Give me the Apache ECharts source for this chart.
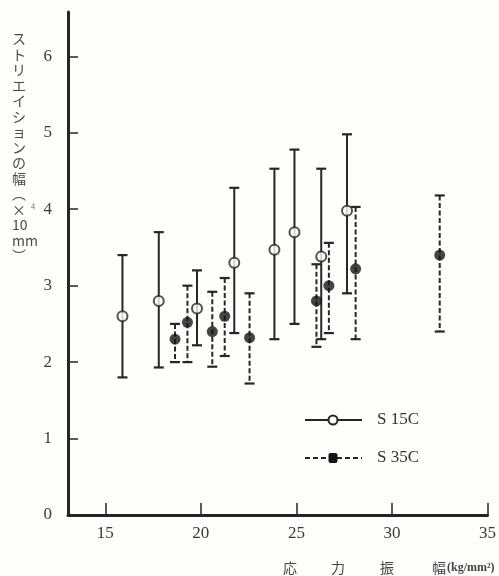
<!DOCTYPE html>
<html>
<head>
<meta charset="utf-8">
<script src="https://cdn.jsdelivr.net/npm/echarts@6/dist/echarts.min.js"></script>
<style>
html,body{margin:0;padding:0;background:#fefefb;}
#chart{width:499px;height:576px;}
</style>
</head>
<body>
<div id="chart"></div>
<script>
// tick labels
const xTicks = [15, 20, 25, 30, 35];
const yTicks = [0, 1, 2, 3, 4, 5, 6];
// S15C: stress amplitude, mean width, lower, upper
const s15Stress = [15.9, 17.8, 19.8, 21.75, 23.85, 24.9, 26.3, 27.65];
const s15Mean   = [2.6, 2.8, 2.7, 3.3, 3.47, 3.7, 3.38, 3.98];
const s15Low    = [1.8, 1.93, 2.22, 2.38, 2.3, 2.5, 2.3, 2.9];
const s15High   = [3.4, 3.7, 3.2, 4.28, 4.53, 4.78, 4.53, 4.98];
// S35C
const s35Stress = [18.65, 19.3, 20.6, 21.25, 22.55, 26.05, 26.7, 28.1, 32.5];
const s35Mean   = [2.3, 2.52, 2.4, 2.6, 2.32, 2.8, 3.0, 3.22, 3.4];
const s35Low    = [2.0, 2.0, 1.94, 2.08, 1.72, 2.2, 2.38, 2.3, 2.4];
const s35High   = [2.5, 3.0, 2.92, 3.1, 2.9, 3.28, 3.56, 4.03, 4.18];
const seriesNames = ['S 15C', 'S 35C'];

const ink = '#262626';
const serif = '"Liberation Serif", "DejaVu Serif", serif';
const cjk = '"Noto Sans CJK JP", sans-serif';

function build(xs, m, lo, hi) {
  return xs.map((x, i) => [x, m[i], lo[i], hi[i]]);
}
const s15 = build(s15Stress, s15Mean, s15Low, s15High);
const s35 = build(s35Stress, s35Mean, s35Low, s35High);

function errRender(dashed) {
  return function (params, api) {
    const x = api.value(0), lo = api.value(2), hi = api.value(3);
    const pt = api.coord([x, hi]);
    const pb = api.coord([x, lo]);
    const cw = 5;
    const st = {stroke: ink, lineWidth: 2, lineDash: dashed ? [5, 2.5] : null};
    const cap = {stroke: ink, lineWidth: 2.2};
    return {
      type: 'group',
      children: [
        {type: 'line', shape: {x1: pt[0], y1: pt[1], x2: pb[0], y2: pb[1]}, style: st},
        {type: 'line', shape: {x1: pt[0] - cw, y1: pt[1], x2: pt[0] + cw, y2: pt[1]}, style: cap},
        {type: 'line', shape: {x1: pb[0] - cw, y1: pb[1], x2: pb[0] + cw, y2: pb[1]}, style: cap}
      ]
    };
  };
}

const yTitleChars = ['ス','ト','リ','エ','イ','シ','ョ','ン','の','幅','︵','×','10','mm','︶'];

const chart = echarts.init(document.getElementById('chart'), null, {renderer: 'canvas'});
chart.setOption({
  backgroundColor: '#fefefb',
  animation: false,
  grid: {left: 68, right: 11, top: 12, bottom: 61, containLabel: false},
  xAxis: {
    type: 'value', min: 13.05, max: 35,
    axisLine: {show: true, onZero: false, lineStyle: {color: ink, width: 3}},
    axisTick: {show: true, inside: true, length: 12, customValues: xTicks, lineStyle: {color: ink, width: 1.5}},
    axisLabel: {show: true, customValues: xTicks, margin: 10, color: '#3a3a3a', fontFamily: serif, fontSize: 17},
    splitLine: {show: false}
  },
  yAxis: {
    type: 'value', min: 0, max: 6.58,
    axisLine: {show: true, lineStyle: {color: ink, width: 3}},
    axisTick: {show: true, inside: true, length: 10, customValues: yTicks, lineStyle: {color: ink, width: 1.5}},
    axisLabel: {show: true, customValues: yTicks, margin: 16, color: '#3a3a3a', fontFamily: serif, fontSize: 17},
    splitLine: {show: false}
  },
  series: [
    {name: seriesNames[0] + ' err', type: 'custom', data: s15, renderItem: errRender(false), encode: {x: 0, y: [2, 3]}, z: 2, silent: true},
    {name: seriesNames[1] + ' err', type: 'custom', data: s35, renderItem: errRender(true), encode: {x: 0, y: [2, 3]}, z: 2, silent: true},
    {name: seriesNames[0], type: 'scatter', data: s15.map(d => [d[0], d[1]]), symbol: 'circle', symbolSize: 10,
      itemStyle: {color: '#fefefb', borderColor: ink, borderWidth: 2}, z: 5},
    {name: seriesNames[1], type: 'scatter', data: s35.map(d => [d[0], d[1]]), symbol: 'circle', symbolSize: 11,
      itemStyle: {color: '#151515'}, z: 5}
  ],
  graphic: [
    {type: 'text', left: 12, top: 31, style: {text: yTitleChars.join('\n'), font: '14px ' + cjk, lineHeight: 15.5, fill: '#4a4a4a', align: 'center', width: 16}},
    {type: 'text', x: 31, y: 203, style: {text: '4', font: '8px ' + serif, fill: '#666'}},
    // legend
    {type: 'line', shape: {x1: 305, y1: 420, x2: 362, y2: 420}, style: {stroke: ink, lineWidth: 1.8}},
    {type: 'circle', shape: {cx: 333, cy: 420, r: 4.5}, style: {fill: '#fefefb', stroke: ink, lineWidth: 2}},
    {type: 'text', x: 377, y: 420, style: {text: seriesNames[0], font: '17px ' + serif, fill: '#333', verticalAlign: 'middle'}},
    {type: 'line', shape: {x1: 305, y1: 458, x2: 362, y2: 458}, style: {stroke: ink, lineWidth: 2, lineDash: [5, 3]}},
    {type: 'rect', shape: {x: 328.5, y: 453, width: 9, height: 10, r: 2}, style: {fill: '#151515'}},
    {type: 'text', x: 377, y: 458, style: {text: seriesNames[1], font: '17px ' + serif, fill: '#333', verticalAlign: 'middle'}},
    // x axis title
    {type: 'text', x: 283, y: 568, style: {text: '応', font: '14px ' + cjk, fill: '#444', verticalAlign: 'middle'}},
    {type: 'text', x: 331, y: 568, style: {text: '力', font: '14px ' + cjk, fill: '#444', verticalAlign: 'middle'}},
    {type: 'text', x: 380, y: 568, style: {text: '振', font: '14px ' + cjk, fill: '#444', verticalAlign: 'middle'}},
    {type: 'text', x: 432, y: 568, style: {text: '幅', font: '14px ' + cjk, fill: '#444', verticalAlign: 'middle'}},
    {type: 'text', x: 447, y: 568, style: {text: '(kg/mm²)', font: 'bold 12px ' + serif, fill: '#444', verticalAlign: 'middle'}}
  ]
});
</script>
</body>
</html>
